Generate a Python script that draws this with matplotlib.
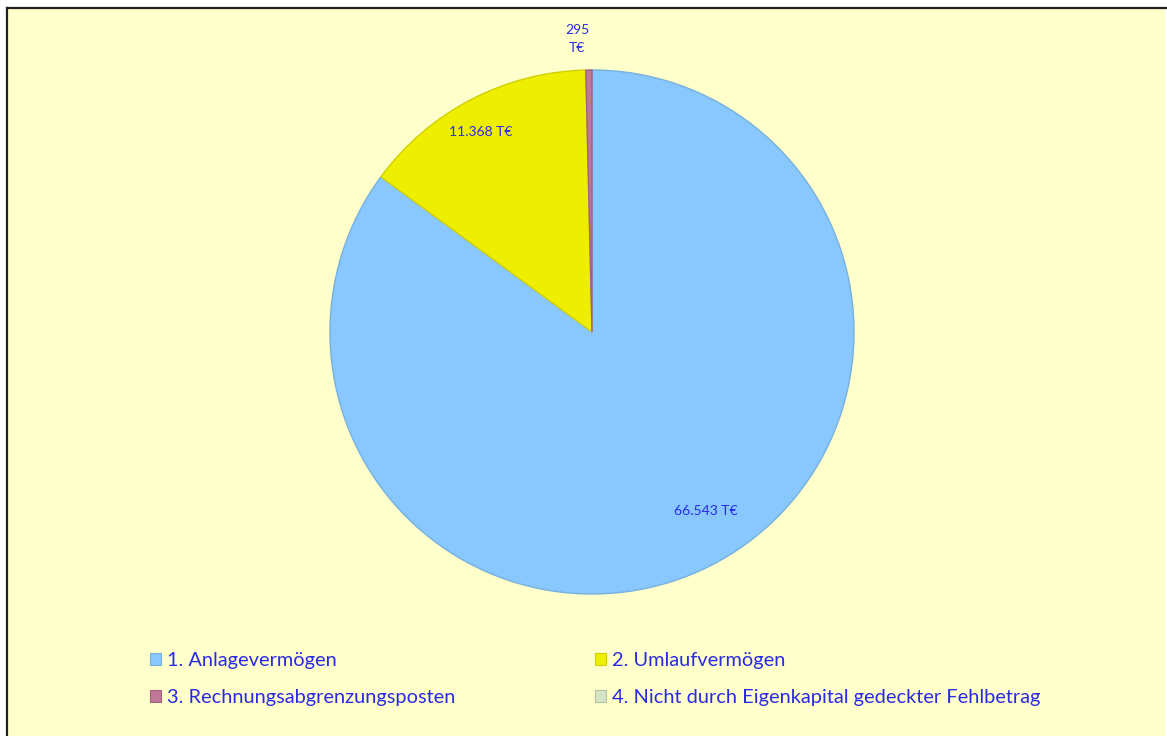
import matplotlib
matplotlib.use("Agg")
import matplotlib.pyplot as plt
from matplotlib.patches import Rectangle, Patch
from matplotlib.lines import Line2D

# ---- data ----
categories = ["1. Anlagevermögen", "2. Umlaufvermögen",
              "3. Rechnungsabgrenzungsposten",
              "4. Nicht durch Eigenkapital gedeckter Fehlbetrag"]
values = [66543, 11368, 295, 0]
value_labels = ["66.543 T€", "11.368 T€", "295\nT€", ""]
colors = ["#88C8FF", "#EEEE00", "#C07898", "#D4E4C4"]
edge_colors = ["#78B0E0", "#D0D000", "#A06080", "#B0C0A0"]

W, H = 1167, 736
TXT = "#2A2AE6"
plt.rcParams['font.family'] = ['Lato', 'DejaVu Sans']

fig = plt.figure(figsize=(W / 100, H / 100), dpi=100)
fig.patch.set_facecolor("white")

# background panel with border (top/left visible)
fig.patches.append(Rectangle((7 / W, 0), (1165 - 7) / W, (H - 8) / H,
                             transform=fig.transFigure, facecolor="#FFFFCC",
                             edgecolor="none", zorder=-2))
fig.lines.append(Line2D([6.5 / W, 1166 / W], [(H - 7.5) / H, (H - 7.5) / H],
                        transform=fig.transFigure, color="#202020", lw=1.6,
                        zorder=-1))
fig.lines.append(Line2D([6.5 / W, 6.5 / W], [0, (H - 7.5) / H],
                        transform=fig.transFigure, color="#202020", lw=1.6,
                        zorder=-1))

ax = fig.add_axes([0, 0, 1, 1])
ax.patch.set_alpha(0)
cx, cy, r = 592, H - 332, 262
wedges, _ = ax.pie(values, colors=colors, startangle=90, counterclock=False,
                   center=(cx, cy), radius=r,
                   wedgeprops=dict(linewidth=1.0))
for w, ec, v in zip(wedges, edge_colors, values):
    w.set_edgecolor(ec)
    if v == 0:
        w.set_linewidth(0)
ax.set_xlim(0, W)
ax.set_ylim(0, H)
ax.set_aspect("equal")
ax.axis("off")

# data labels
label_pos = [(706, H - 511), (481, H - 132), (577, H - 39)]
for (x, y), t in zip(label_pos, value_labels[:3]):
    ax.text(x, y, t, ha="center", va="center", fontsize=10, color=TXT,
            linespacing=1.6)

handles = [Patch(facecolor=c, edgecolor=e, linewidth=0.8)
           for c, e in zip(colors, edge_colors)]

common = dict(loc="upper left", frameon=False, fontsize=14.4, labelcolor=TXT,
              handlelength=0.55, handleheight=0.55, handletextpad=0.3,
              labelspacing=1.0, borderpad=0, borderaxespad=0)
leg1 = fig.legend(handles[0::2], categories[0::2],
                  bbox_to_anchor=(150 / W, 1 - 652 / H), **common)
leg2 = fig.legend(handles[1::2], categories[1::2],
                  bbox_to_anchor=(595 / W, 1 - 652 / H), **common)

fig.savefig("out.png", dpi=100)
